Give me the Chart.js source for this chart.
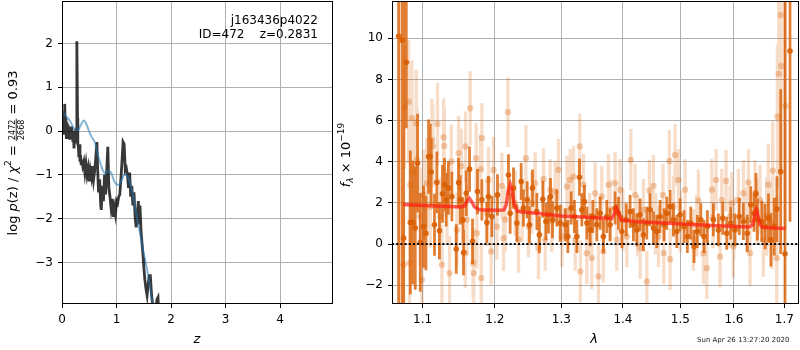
<!DOCTYPE html>
<html>
<head>
<meta charset="utf-8">
<script src="https://cdn.jsdelivr.net/npm/chart.js@4.4.1/dist/chart.umd.min.js"></script>
<style>
  body { margin: 0; background: #fff; }
  #wrap { position: relative; width: 800px; height: 350px; }
  canvas { position: absolute; top: 0; }
  #pz { left: 0; }
  #spec { left: 335px; }
</style>
</head>
<body>
<div id="wrap">
  <canvas id="pz" width="340" height="350"></canvas>
  <canvas id="spec" width="465" height="350"></canvas>
</div>
<script>
// left panel: log p(z)
const pzZ = [0.00, 0.01, 0.02, 0.03, 0.04, 0.05, 0.06, 0.07, 0.08, 0.09, 0.10, 0.11, 0.12, 0.13, 0.14, 0.15,
  0.16, 0.17, 0.18, 0.19, 0.20, 0.21, 0.22, 0.23, 0.24, 0.25, 0.26, 0.27, 0.275, 0.285, 0.29, 0.30, 0.31, 0.32,
  0.33, 0.34, 0.35, 0.36, 0.38, 0.40, 0.42, 0.44, 0.46, 0.48, 0.50, 0.52, 0.54, 0.56, 0.58, 0.60, 0.62, 0.64,
  0.655, 0.67, 0.69, 0.71, 0.72, 0.74, 0.76, 0.78, 0.80, 0.82, 0.84, 0.86, 0.88, 0.90, 0.92, 0.94, 0.96, 0.98,
  1.00, 1.02, 1.04, 1.06, 1.08, 1.10, 1.12, 1.14, 1.16, 1.18, 1.20, 1.22, 1.24, 1.26, 1.28, 1.30, 1.32, 1.34,
  1.36, 1.38, 1.40, 1.42, 1.43, 1.45, 1.47, 1.49, 1.50, 1.52, 1.54, 1.56, 1.58, 1.60, 1.62, 1.64, 1.66, 1.68,
  1.72, 1.74, 1.76, 1.78];
const pzLog = [0.00, 0.25, -0.05, 0.45, 0.10, 0.62, 0.00, 0.30, -0.15, 0.20, -0.10, 0.15, -0.15, 0.10, -0.20, 0.05,
  -0.10, 0.10, -0.20, -0.05, -0.25, 0.00, -0.40, -0.10, -0.25, 0.05, -0.10, 0.60, 2.05, 0.30, -0.30, -0.35, -0.60, -0.30,
  -0.70, -0.55, -0.75, -0.65, -0.80, -0.70, -0.95, -0.75, -1.00, -0.85, -1.15, -0.90, -1.05, -0.80, -1.10, -0.90, -0.60, -0.25,
  -0.90, -1.40, -1.10, -1.70, -1.80, -1.25, -1.60, -1.00, -1.45, -0.90, -0.36, -1.30, -1.50, -1.75, -1.55, -1.96, -1.75, -1.90,
  -1.60, -1.65, -1.50, -1.45, -1.10, -0.70, -0.25, -0.30, -0.90, -0.85, -1.00, -1.30, -0.95, -1.50, -1.25, -1.70, -1.40, -1.95,
  -2.20, -1.90, -1.60, -2.10, -1.70, -2.30, -2.60, -2.90, -3.10, -3.40, -3.60, -3.75, -3.50, -3.30, -3.30, -3.70, -3.95, -4.30,
  -4.20, -3.85, -3.80, -4.30];
const smoothZ = [0.00, 0.05, 0.10, 0.15, 0.20, 0.25, 0.30, 0.35, 0.40, 0.45, 0.50, 0.55, 0.60, 0.65, 0.70, 0.75, 0.80,
  0.85, 0.90, 0.95, 1.00, 1.05, 1.10, 1.15, 1.20, 1.25, 1.30, 1.35, 1.40, 1.45, 1.50, 1.55, 1.60, 1.65, 1.70];
const smoothLog = [0.40, 0.38, 0.30, 0.22, 0.10, 0.02, 0.03, 0.15, 0.24, 0.15, -0.02, -0.15, -0.25, -0.50, -0.72, -0.90, -0.97,
  -0.90, -0.95, -1.12, -1.22, -1.23, -1.10, -1.00, -1.03, -1.20, -1.45, -1.80, -2.15, -2.45, -2.80, -3.10, -3.45, -3.85, -4.25];
const zTicks = [0, 1, 2, 3, 4];
const logpTicks = [-3, -2, -1, 0, 1, 2];

// right panel: spectrum
const darkLam = [1.0688, 1.0732, 1.0752, 1.0787, 1.0839, 1.0874, 1.0904, 1.0934, 1.0970, 1.1013, 1.1045, 1.1080, 1.1102,
  1.1115, 1.1159, 1.1191, 1.1226, 1.1267, 1.1294, 1.1317, 1.1348, 1.1395, 1.1455, 1.1487, 1.1510, 1.1548, 1.1556, 1.1594,
  1.1640, 1.1682, 1.1752, 1.1814, 1.1885, 1.1908, 1.1957, 1.2038, 1.2198, 1.2223, 1.2272, 1.2322, 1.2386, 1.2420, 1.2476,
  1.2510, 1.2556, 1.2622, 1.2661, 1.2713, 1.2760, 1.2800, 1.2831, 1.2862, 1.2929, 1.2981, 1.3060, 1.3102, 1.3154, 1.3206,
  1.3245, 1.3286, 1.3324, 1.3366, 1.3405, 1.3458, 1.3502, 1.3566, 1.3620, 1.3674, 1.3730, 1.3785, 1.3868, 1.3924, 1.3981,
  1.4054, 1.4121, 1.4177, 1.4235, 1.4292, 1.4349, 1.4408, 1.4465, 1.4523, 1.4582, 1.4639, 1.4710, 1.4758, 1.4817, 1.4876,
  1.4937, 1.4996, 1.5068, 1.5128, 1.5190, 1.5250, 1.5311, 1.5374, 1.5435, 1.5497, 1.5609, 1.5703, 1.5786, 1.5862, 1.5938,
  1.6021, 1.6104, 1.6182, 1.6260, 1.6327, 1.6392, 1.6430, 1.6458, 1.6546, 1.6612, 1.6679, 1.6728, 1.6795, 1.6850, 1.6926,
  1.7014, 1.7117];
const darkFlux = [10.1, 9.9, 0.29, 8.83, 1.05, 1.05, 0.78, 3.93, 0.08, 0.85, 0.53, 4.25, 4.25,
  3.50, 0.94, 3.00, 0.65, 2.44, 2.88, 2.15, 2.72, 2.31, -0.24, 2.99, 2.15, 1.18, -0.41, 2.47,
  3.64, 0.13, 2.55, 2.15, 1.05, 2.31, 1.34, 2.39, 3.36, 1.50, 2.72, 1.02, 3.04, 1.75, 2.15,
  0.94, 2.72, 1.58, 0.45, 2.18, 1.10, 1.42, 2.31, 1.18, 1.75, 1.02, 0.94, 0.37, 1.75, 1.34,
  0.37, 3.25, 1.67, 2.07, 1.02, 0.69, 1.34, 0.94, 1.50, 0.37, 1.34, 0.94, 1.75, 1.50, 0.61,
  1.18, 1.58, 0.94, 0.69, 1.42, 0.45, 1.02, 1.67, 0.78, 0.61, 1.34, 0.94, 1.50, 1.83, 1.18,
  0.61, 1.42, 0.85, 0.37, 1.02, -0.12, 0.61, 1.18, 0.37, 0.85, 1.18, 0.69, 1.26, 0.53, 1.02,
  0.69, 1.34, 1.10, 0.53, 1.91, 1.50, 2.45, 1.18, 1.10, 0.85, 1.26, 0.21, 0.85, 1.70, 3.52,
  -0.47, 9.38];
const darkErr = [15, 15, 15, 3.2, 3.5, 3.0, 3.0, 2.4, 2.4, 2.0, 1.8, 1.8, 1.6,
  1.6, 1.5, 1.5, 1.4, 1.4, 1.3, 1.3, 1.3, 1.2, 1.2, 1.2, 1.2, 1.1, 1.1, 1.1,
  1.1, 1.1, 1.1, 1.0, 1.0, 1.0, 1.0, 1.0, 1.0, 1.0, 1.0, 0.9, 0.9, 0.9, 0.9,
  0.9, 0.9, 0.9, 0.9, 0.9, 0.9, 0.9, 0.9, 0.9, 0.9, 0.9, 0.8, 0.8, 0.8, 0.8,
  0.8, 0.9, 0.8, 0.8, 0.8, 0.8, 0.8, 0.8, 0.8, 0.8, 0.8, 0.8, 0.8, 0.8, 0.8,
  0.8, 0.8, 0.8, 0.8, 0.8, 0.8, 0.8, 0.8, 0.8, 0.8, 0.8, 0.8, 0.8, 0.8, 0.8,
  0.8, 0.8, 0.8, 0.8, 0.8, 0.8, 0.8, 0.8, 0.8, 0.8, 0.8, 0.8, 0.8, 0.8, 0.8,
  0.8, 0.9, 0.9, 0.9, 0.9, 0.9, 1.0, 1.0, 1.0, 1.1, 1.2, 1.3, 1.4, 1.6, 4.0,
  15, 8.3];

const lightLam = [1.0752, 1.0765, 1.0817, 1.0830, 1.0839, 1.0861, 1.0882, 1.0917, 1.0926, 1.0970, 1.0992, 1.1013, 1.1058,
  1.1102, 1.1125, 1.1138, 1.1200, 1.1237, 1.1260, 1.1282, 1.1291, 1.1328, 1.1363, 1.1387, 1.1465, 1.1487, 1.1524, 1.1580,
  1.1584, 1.1603, 1.1649, 1.1690, 1.1700, 1.1733, 1.1743, 1.1795, 1.1805, 1.1814, 1.1885, 1.1908, 1.1947, 1.1981, 1.2030,
  1.2102, 1.2126, 1.2150, 1.2190, 1.2297, 1.2346, 1.2400, 1.2456, 1.2496, 1.2546, 1.2596, 1.2646, 1.2723, 1.2749, 1.2826,
  1.2850, 1.2903, 1.2955, 1.3008, 1.3087, 1.3100, 1.3138, 1.3191, 1.3218, 1.3290, 1.3300, 1.3350, 1.3404, 1.3450, 1.3485,
  1.3539, 1.3593, 1.3648, 1.3674, 1.3757, 1.3785, 1.3868, 1.3896, 1.3952, 1.4000, 1.4065, 1.4133, 1.4206, 1.4250, 1.4292,
  1.4349, 1.4408, 1.4453, 1.4523, 1.4560, 1.4610, 1.4690, 1.4705, 1.4804, 1.4817, 1.4876, 1.4906, 1.4966, 1.5000, 1.5087,
  1.5238, 1.5300, 1.5330, 1.5423, 1.5486, 1.5579, 1.5600, 1.5660, 1.5735, 1.5767, 1.5849, 1.5925, 1.5958, 1.5989, 1.6000,
  1.6086, 1.6184, 1.6250, 1.6281, 1.6313, 1.6411, 1.6450, 1.6510, 1.6576, 1.6643, 1.6676, 1.6750, 1.6765, 1.6846, 1.6859,
  1.6887, 1.6927, 1.6933, 1.7021];
const lightFlux = [-1.00, 6.65, 6.92, -0.92, 2.88, 6.12, 3.52, 5.87, 4.13, 1.34, -1.73, 2.39, 2.96,
  1.83, 5.06, 4.77, 5.84, 1.34, -1.00, 5.19, 4.77, 1.83, -1.41, 4.01, 0.69, 4.42, 3.80, -0.44,
  4.74, 1.18, 6.60, -0.92, -1.41, 4.17, 0.53, 3.64, -1.65, 5.15, 1.50, 3.12, -0.36, 3.60, 0.85,
  2.83, 0.29, 1.20, 6.41, 1.99, 0.21, 1.60, 4.17, 0.85, 1.99, 2.96, -0.19, 3.16, 0.21, 2.64,
  1.10, 2.55, 3.60, 0.37, 2.80, 1.60, 3.12, 3.28, 0.21, 4.74, -1.33, 2.88, -0.44, 1.00, -0.68,
  2.47, -1.57, 2.31, -0.36, 2.88, 1.67, 2.96, 0.21, 2.64, 1.20, 0.37, 4.09, 2.39, 0.90, -0.19,
  1.67, -1.82, 2.60, 2.83, 1.00, 0.37, 2.39, -0.44, 4.04, -0.73, 1.83, 4.33, 3.12, 1.10, 2.64,
  0.21, 0.90, 2.12, -0.44, -1.17, 2.64, 1.30, 3.12, -0.60, 2.15, 3.07, 1.34, 1.99, -0.12, 0.80,
  2.15, 2.47, 1.18, 2.99, -0.44, 2.47, 1.60, 2.15, 0.21, 1.34, 2.88, 1.00, 3.57, -0.68, 6.19,
  8.27, 11.13, 8.65, 6.71];
const lightErr = [3.0, 3.0, 3.0, 2.8, 2.8, 2.8, 2.6, 2.6, 2.5, 2.4, 2.3, 2.2, 2.2,
  2.0, 2.0, 2.0, 2.0, 1.9, 1.9, 1.9, 1.9, 1.8, 1.8, 1.8, 1.8, 1.8, 1.8, 1.7,
  1.7, 1.7, 1.8, 1.7, 1.7, 1.7, 1.7, 1.7, 1.7, 1.7, 1.6, 1.6, 1.6, 1.6, 1.6,
  1.6, 1.6, 1.6, 1.7, 1.6, 1.6, 1.5, 1.6, 1.5, 1.5, 1.5, 1.5, 1.5, 1.5, 1.5,
  1.5, 1.5, 1.5, 1.5, 1.5, 1.5, 1.5, 1.5, 1.5, 1.6, 1.5, 1.5, 1.5, 1.5, 1.5,
  1.5, 1.5, 1.5, 1.5, 1.5, 1.5, 1.5, 1.5, 1.5, 1.5, 1.5, 1.5, 1.5, 1.5, 1.5,
  1.5, 1.5, 1.5, 1.5, 1.5, 1.5, 1.5, 1.5, 1.5, 1.5, 1.5, 1.5, 1.5, 1.5, 1.5,
  1.5, 1.5, 1.5, 1.5, 1.5, 1.5, 1.5, 1.5, 1.5, 1.5, 1.5, 1.5, 1.5, 1.5, 1.5,
  1.5, 1.6, 1.6, 1.6, 1.6, 1.6, 1.6, 1.7, 1.8, 1.9, 2.0, 2.2, 2.4, 3.0, 3.5,
  4.5, 6.0, 5.0, 6.0];

const modelLam = [1.0744, 1.10, 1.13, 1.152, 1.157, 1.1605, 1.1636, 1.1667, 1.171, 1.178, 1.20, 1.213, 1.2165, 1.2195,
  1.2225, 1.2255, 1.2285, 1.233, 1.25, 1.30, 1.34, 1.381, 1.385, 1.389, 1.393, 1.397, 1.42, 1.47, 1.52, 1.57, 1.63,
  1.637, 1.641, 1.644, 1.647, 1.651, 1.656, 1.68, 1.702];
const modelFlux = [1.92, 1.88, 1.84, 1.80, 1.85, 2.08, 2.23, 2.08, 1.80, 1.67, 1.64, 1.66, 1.90, 2.55,
  2.88, 2.50, 1.90, 1.60, 1.53, 1.37, 1.30, 1.24, 1.45, 1.75, 1.50, 1.17, 1.10, 1.02, 0.95, 0.89, 0.83,
  0.95, 1.45, 1.65, 1.40, 0.95, 0.82, 0.78, 0.76];
const lamTicks = [1.1, 1.2, 1.3, 1.4, 1.5, 1.6, 1.7];
const fluxTicks = [-2, 0, 2, 4, 6, 8, 10];
const lamRange = [1.0603, 1.7303];
const fluxRange = [-2.91, 11.81];

function minusLabel(v) {
    return v < 0 ? '\u2212' + Math.abs(v) : String(v);
}

function errorSegments(xs, ys, es) {
    const out = [];
    xs.forEach((x, i) => {
        out.push({x: x, y: ys[i] - es[i]}, {x: x, y: ys[i] + es[i]}, {x: x, y: null});
    });
    return out;
}

// draws a row of text pieces (rotated frame), pieces: {t, font, dy} or {frac:[num,den], font}
function drawPieces(ctx, pieces) {
    let total = 0;
    pieces.forEach(p => {
        ctx.font = p.font;
        p.w = p.frac ? Math.max(ctx.measureText(p.frac[0]).width, ctx.measureText(p.frac[1]).width) + 2 : ctx.measureText(p.t).width;
        total += p.w;
    });
    let x = -total / 2;
    pieces.forEach(p => {
        ctx.font = p.font;
        if (p.frac) {
            ctx.textAlign = 'center';
            ctx.fillText(p.frac[0], x + p.w / 2, -2);
            ctx.fillText(p.frac[1], x + p.w / 2, 7);
            ctx.fillRect(x, -1.2, p.w, 0.8);
            ctx.textAlign = 'left';
        } else {
            ctx.fillText(p.t, x, p.dy || 0);
        }
        x += p.w;
    });
}

const FONT = '"DejaVu Sans"';
const gridColor = '#b0b0b0';

function frame(ctx, a) {
    ctx.strokeStyle = '#000';
    ctx.lineWidth = 1;
    ctx.strokeRect(Math.round(a.left) + 0.5, Math.round(a.top) + 0.5,
        Math.round(a.right - a.left) - 1, Math.round(a.bottom - a.top) - 1);
}

const pzDecor = {
    id: 'pzDecor',
    afterDraw(chart) {
        const ctx = chart.ctx;
        const a = chart.chartArea;
        ctx.save();
        frame(ctx, a);
        ctx.fillStyle = '#000';
        ctx.font = '12px ' + FONT;
        ctx.textAlign = 'right';
        ctx.textBaseline = 'alphabetic';
        ctx.fillText('j163436p4022', 318, 24);
        ctx.fillText('ID=472    z=0.2831', 318, 38);
        // x title
        ctx.textAlign = 'center';
        ctx.textBaseline = 'middle';
        ctx.font = 'italic 13px ' + FONT;
        ctx.fillText('z', 197, 340);
        // y title
        ctx.translate(17, 153);
        ctx.rotate(-Math.PI / 2);
        ctx.textAlign = 'left';
        ctx.textBaseline = 'alphabetic';
        drawPieces(ctx, [
            {t: 'log ', font: '13px ' + FONT},
            {t: 'p', font: 'italic 13px ' + FONT},
            {t: '(z) / ', font: '13px ' + FONT},
            {t: '\u03c7', font: 'italic 13px ' + FONT},
            {t: '2', font: '9px ' + FONT, dy: -6},
            {t: ' = ', font: '13px ' + FONT},
            {frac: ['2472', '2668'], font: '8px ' + FONT},
            {t: ' = 0.93', font: '13px ' + FONT}
        ]);
        ctx.restore();
    }
};

const specDecor = {
    id: 'specDecor',
    afterDraw(chart) {
        const ctx = chart.ctx;
        const a = chart.chartArea;
        ctx.save();
        frame(ctx, a);
        ctx.fillStyle = '#000';
        ctx.textAlign = 'center';
        ctx.textBaseline = 'middle';
        ctx.font = 'italic 13px ' + FONT;
        ctx.fillText('\u03bb', 259, 340);
        ctx.textAlign = 'left';
        ctx.font = '7px ' + FONT;
        ctx.fillStyle = '#222';
        ctx.fillText('Sun Apr 26 13:27:20 2020', 362, 340);
        ctx.fillStyle = '#000';
        ctx.translate(15, 155);
        ctx.rotate(-Math.PI / 2);
        ctx.textBaseline = 'alphabetic';
        drawPieces(ctx, [
            {t: 'f', font: 'italic 13px ' + FONT},
            {t: '\u03bb', font: 'italic 9px ' + FONT, dy: 3},
            {t: ' \u00d7 10', font: '13px ' + FONT},
            {t: '\u221219', font: '9px ' + FONT, dy: -6}
        ]);
        ctx.restore();
    }
};

// fixed axis box sizes, no extra room for overhanging labels
function fixX(h) {
    return s => { s.height = h; s.paddingLeft = 0; s.paddingRight = 0; };
}
function fixY(w) {
    return s => { s.width = w; s.paddingTop = 0; s.paddingBottom = 0; };
}

function axisCommon(ticksArr, fmt) {
    return {
        afterBuildTicks: s => { s.ticks = ticksArr.map(v => ({value: v})); },
        grid: {color: gridColor, lineWidth: 1, tickLength: 4, tickColor: '#000'},
        border: {display: false},
        ticks: {color: '#000', font: {size: 12}, padding: 5, maxRotation: 0, autoSkip: false, callback: fmt}
    };
}

document.addEventListener('DOMContentLoaded', function() {
    Chart.defaults.font.family = FONT;
    Chart.defaults.color = '#000';

    const ctx1 = document.getElementById('pz').getContext('2d');
    new Chart(ctx1, {
        type: 'scatter',
        data: {
            datasets: [{
                label: 'smooth',
                data: smoothZ.map((z, i) => ({x: z, y: smoothLog[i]})),
                showLine: true,
                borderColor: 'rgba(31, 119, 180, 0.55)',
                borderWidth: 2,
                pointRadius: 0,
                cubicInterpolationMode: 'monotone',
                order: 0
            }, {
                label: 'pz',
                data: pzZ.map((z, i) => ({x: z, y: pzLog[i]})),
                showLine: true,
                borderColor: 'rgba(0, 0, 0, 0.78)',
                borderWidth: 2.8,
                pointRadius: 0,
                tension: 0,
                order: 1
            }]
        },
        options: {
            responsive: false,
            animation: false,
            devicePixelRatio: 1,
            layout: {autoPadding: false, padding: {left: 0, right: 7, top: 1, bottom: 0}},
            plugins: {legend: {display: false}, tooltip: {enabled: false}},
            scales: {
                x: Object.assign({type: 'linear', min: 0, max: 4.97, afterFit: fixX(46)},
                    axisCommon(zTicks, v => minusLabel(v))),
                y: Object.assign({type: 'linear', min: -3.95, max: 2.97, afterFit: fixY(62)},
                    axisCommon(logpTicks, v => minusLabel(v)))
            }
        },
        plugins: [pzDecor]
    });

    const ctx2 = document.getElementById('spec').getContext('2d');
    new Chart(ctx2, {
        type: 'scatter',
        data: {
            datasets: [{
                label: 'zero',
                data: [{x: lamRange[0], y: 0}, {x: lamRange[1], y: 0}],
                showLine: true,
                borderColor: '#000',
                borderWidth: 2,
                borderDash: [2, 2.2],
                pointRadius: 0,
                order: 0
            }, {
                label: 'model',
                data: modelLam.map((l, i) => ({x: l, y: modelFlux[i]})),
                showLine: true,
                borderColor: 'rgba(255, 30, 20, 0.72)',
                borderWidth: 3.5,
                pointRadius: 0,
                tension: 0,
                order: 1
            }, {
                label: 'dark points',
                data: darkLam.map((l, i) => ({x: l, y: darkFlux[i]})),
                backgroundColor: 'rgba(217, 95, 2, 0.9)',
                borderWidth: 0,
                pointRadius: 2.8,
                order: 2
            }, {
                label: 'dark errors',
                data: errorSegments(darkLam, darkFlux, darkErr),
                showLine: true,
                spanGaps: false,
                borderColor: 'rgba(217, 95, 2, 0.8)',
                borderWidth: 2.8,
                pointRadius: 0,
                order: 3
            }, {
                label: 'light points',
                data: lightLam.map((l, i) => ({x: l, y: lightFlux[i]})),
                backgroundColor: 'rgba(217, 95, 2, 0.3)',
                borderWidth: 0,
                pointRadius: 3.2,
                order: 4
            }, {
                label: 'light errors',
                data: errorSegments(lightLam, lightFlux, lightErr),
                showLine: true,
                spanGaps: false,
                borderColor: 'rgba(217, 95, 2, 0.22)',
                borderWidth: 3.3,
                pointRadius: 0,
                order: 5
            }]
        },
        options: {
            responsive: false,
            animation: false,
            devicePixelRatio: 1,
            layout: {autoPadding: false, padding: {left: 0, right: 1, top: 1, bottom: 0}},
            plugins: {legend: {display: false}, tooltip: {enabled: false}},
            scales: {
                x: Object.assign({type: 'logarithmic', min: lamRange[0], max: lamRange[1], afterFit: fixX(46)},
                    axisCommon(lamTicks, v => Number(v).toFixed(1))),
                y: Object.assign({type: 'linear', min: fluxRange[0], max: fluxRange[1], afterFit: fixY(57)},
                    axisCommon(fluxTicks, v => minusLabel(v)))
            }
        },
        plugins: [specDecor]
    });
});
</script>
</body>
</html>
